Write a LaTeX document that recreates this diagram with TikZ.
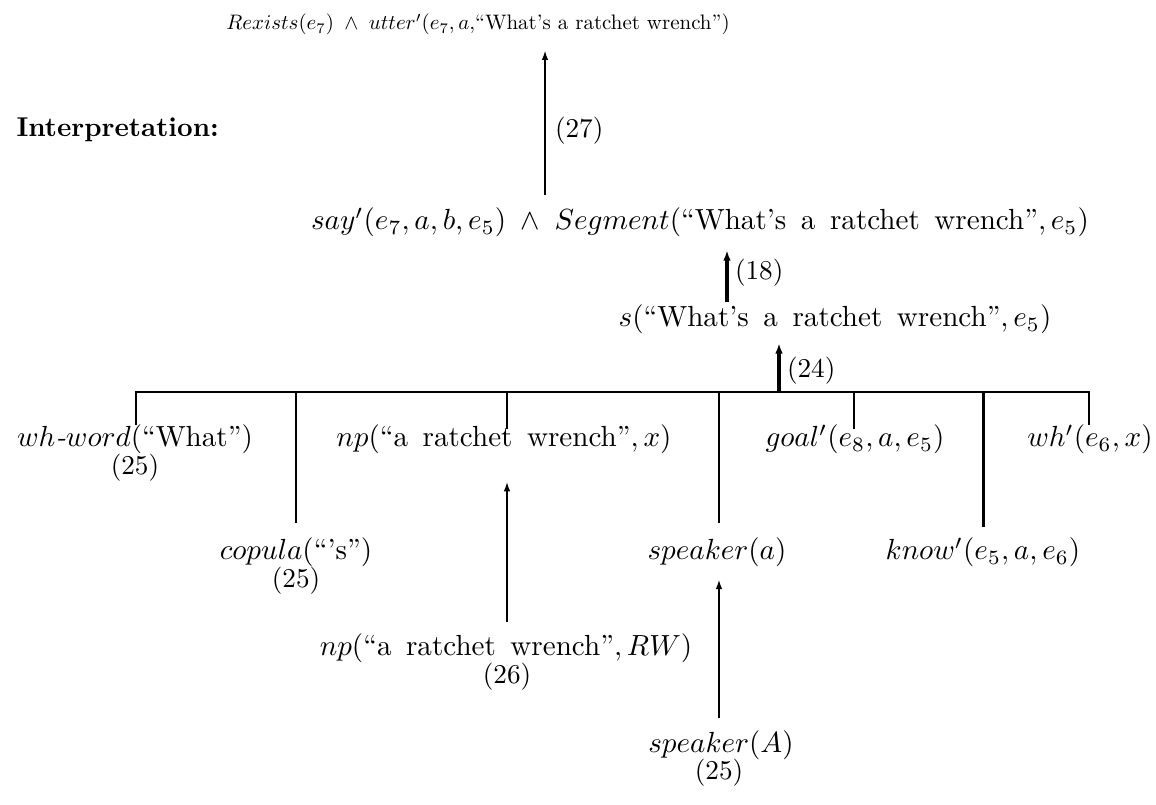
\documentclass[tikz,border=0pt]{standalone}
\usepackage{graphicx}
\usetikzlibrary{arrows.meta,calc}
\newcommand{\qt}[1]{{\spaceskip=0.5em plus 0.1em``#1''}}
\newcommand{\bg}[1]{\scalebox{1.07}{#1}}
\begin{document}
\begin{tikzpicture}[x=0.3676pt,y=-0.3676pt,
  lbl/.style={inner sep=0pt,outer sep=0pt,anchor=base},
  num/.style={inner sep=0pt,outer sep=0pt,anchor=base west},
  tree/.style={line width=0.7pt},
  thick tree/.style={line width=1.1pt},
  arr/.style={line width=0.7pt,-{Latex[length=3.6pt,width=2.4pt]}},
  thick arr/.style={line width=1.2pt,-{Latex[length=3.8pt,width=2.8pt]}}]
\path[use as bounding box] (0,0) rectangle (1156,805);
% nodes
\node[lbl] (top) at (478,30) {\scalebox{0.77}{$Rexists(e_7)\;\wedge\;utter'(e_7,a,$``What's a ratchet wrench''$)$}};
\node[inner sep=0pt,anchor=base west] (interp) at (16,137) {\textbf{Interpretation:}};
\node[lbl] (say) at (700,230) {\bg{$say'(e_7,a,b,e_5)\;\wedge\;Segment($\qt{What's a ratchet wrench}$,e_5)$}};
\node[lbl] (s) at (835,327) {\bg{$s($\qt{What's a ratchet wrench}$,e_5)$}};
\node[lbl] (whword) at (135,447) {\bg{$wh\textit{-}word($``What''$)$}};
\node[lbl] (whwordn) at (135,475) {(25)};
\node[lbl] (np) at (504,447) {\bg{$np($\qt{a ratchet wrench}$,x)$}};
\node[lbl] (goal) at (855,447) {\bg{$goal'(e_8,a,e_5)$}};
\node[lbl] (wh) at (1090,447) {\bg{$wh'(e_6,x)$}};
\node[lbl] (copula) at (296,560) {\bg{$copula($``'s''$)$}};
\node[lbl] (copulan) at (296,588) {(25)};
\node[lbl] (speakera) at (717,560) {\bg{$speaker(a)$}};
\node[lbl] (know) at (983,560) {\bg{$know'(e_5,a,e_6)$}};
\node[lbl] (nprw) at (506,656) {\bg{$np($\qt{a ratchet wrench}$,RW)$}};
\node[lbl] (nprwn) at (507,684) {(26)};
\node[lbl] (speakerA) at (721,752) {\bg{$speaker(A)$}};
\node[lbl] (speakerAn) at (719,780) {(25)};
% coordinates
\coordinate (c27) at (545,195);
\coordinate (c18) at (727,302);
\coordinate (bl) at (136,392);
\coordinate (br) at (1089,392);
\coordinate (c24) at (779,392);
\coordinate (cnp) at (507,622);
\coordinate (csp) at (719,718);
% arrows
\draw[arr,shorten >=5.5pt] (c27) -- (c27 |- top.south);
\node[num] (n27) at (555,138) {(27)};
\draw[thick arr,shorten >=4.8pt] (c18) -- (c18 |- say.south);
\node[num] (n18) at (735,280) {(18)};
\draw[thick arr,shorten >=3.3pt] (c24) -- (c24 |- s.south);
\node[num] (n24) at (787,378) {(24)};
% tree
\draw[tree] (bl |- whword.north) -- (bl) -- (br) -- (br |- wh.north);
\draw[tree] (296,392) -- (296,523);
\draw[tree] (507,392) -- (507,429);
\draw[tree] (719,392) -- (719,523);
\draw[tree] (854,392) -- (854,429);
\draw[thick tree] (983,392) -- (983,527);
% lower arrows
\draw[arr,shorten >=10pt] (cnp) -- (cnp |- np.south);
\draw[arr,shorten >=4.4pt] (csp) -- (csp |- speakera.south);
\end{tikzpicture}
\end{document}
